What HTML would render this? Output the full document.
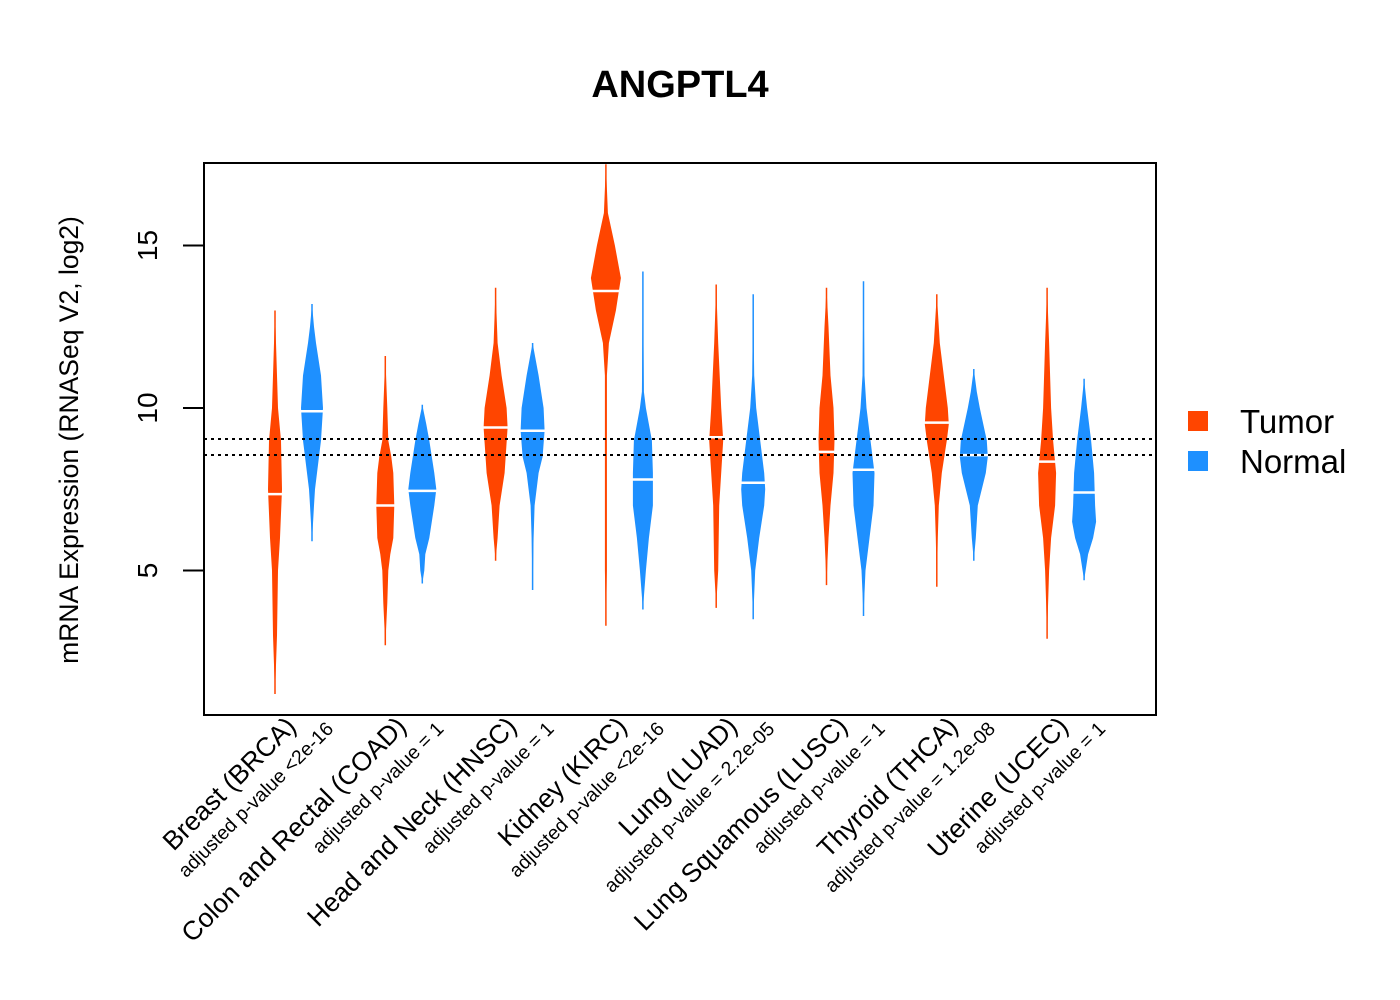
<!DOCTYPE html>
<html><head><meta charset="utf-8"><style>
body{margin:0;background:#fff;}
svg{display:block;font-family:"Liberation Sans",Arial,sans-serif;}
</style></head><body>
<svg id="chart" width="1400" height="1000" viewBox="0 0 1400 1000">
<text x="680" y="97" text-anchor="middle" font-size="38" font-weight="bold">ANGPTL4</text>
<g id="beans"></g>
<line x1="204" y1="439" x2="1156" y2="439" stroke="#000" stroke-width="2" stroke-dasharray="3,4"/>
<line x1="204" y1="455" x2="1156" y2="455" stroke="#000" stroke-width="2" stroke-dasharray="3,4"/>
<rect x="204" y="163" width="952" height="552" fill="none" stroke="#000" stroke-width="2"/>
<g id="yaxis"></g>
<text transform="translate(78,440) rotate(-90)" text-anchor="middle" font-size="26.5">mRNA Expression (RNASeq V2, log2)</text>
<g id="xlabels"></g>
<g>
<rect x="1188" y="411" width="20" height="20" fill="#FF4500"/>
<text x="1240" y="433" font-size="33">Tumor</text>
<rect x="1188" y="451" width="20" height="20" fill="#1E90FF"/>
<text x="1240" y="473" font-size="33">Normal</text>
</g>
</svg>
<script>
const categories = ["Breast (BRCA)","Colon and Rectal (COAD)","Head and Neck (HNSC)","Kidney (KIRC)","Lung (LUAD)","Lung Squamous (LUSC)","Thyroid (THCA)","Uterine (UCEC)"];
const pvalues = ["adjusted p-value <2e-16","adjusted p-value = 1","adjusted p-value = 1","adjusted p-value <2e-16","adjusted p-value = 2.2e-05","adjusted p-value = 1","adjusted p-value = 1.2e-08","adjusted p-value = 1"];
const yTicks = [5,10,15];
const refLines = [9.05,8.55];
const tumorMin = [1.2,2.7,5.3,3.3,3.85,4.55,4.5,2.9];
const tumorMax = [13.0,11.6,13.7,17.5,13.8,13.7,13.5,13.7];
const tumorMedian = [7.35,7.0,9.4,13.6,9.1,8.65,9.55,8.35];
const normalMin = [5.9,4.6,4.4,3.8,3.5,3.6,5.3,4.7];
const normalMax = [13.2,10.1,12.0,14.2,13.5,13.9,11.2,10.9];
const normalMedian = [9.9,7.45,9.3,7.8,7.7,8.1,8.55,7.4];
// density knots: [value, relative density]
const tumorDensity = [
 [[13,0],[11,2],[10,3],[9,6],[7.5,7],[6,5],[5,3],[3,2],[1.2,0]],
 [[11.6,0],[10,2],[9,3],[8.5,6],[8,8],[7,9],[6,8],[5.5,5],[5,3],[4,2],[2.7,0]],
 [[13.7,0],[12,2],[11,6],[10,11],[9.4,12],[8,9],[7,4],[6,2],[5.3,0]],
 [[17.5,0],[16,2],[15,9],[14,15],[13,10],[12,3],[11,1],[5,1],[3.3,0]],
 [[13.8,0],[12,2],[10,5],[9,7],[8,5],[7,3],[5,2],[3.9,0]],
 [[13.7,0],[12.5,2],[11,4],[10,7],[9,8],[8,7],[7,4],[6,2],[4.6,0]],
 [[13.5,0],[12,3],[11,7],[10,11],[9.5,12],[9,10],[8,5],[7,2],[6,1],[4.5,0]],
 [[13.7,0],[12,2],[10,4],[9,6],[8,9],[7,8],[6,4],[5,2],[4,1],[2.9,0]]
];
const normalDensity = [
 [[13.2,0],[12.5,2],[12,4],[11,9],[10,11],[9,9],[8.5,7],[8,5],[7.5,3],[7,2],[5.9,0]],
 [[10.1,0],[9.5,4],[9,7],[8,12],[7.5,14],[7,12],[6,7],[5.5,3],[5,2],[4.6,0]],
 [[12,0],[11,6],[10,11],[9.3,12],[8.5,10],[8,6],[7,2],[6,1],[4.4,0]],
 [[14.2,0],[10.5,1],[10,3],[9,9],[8,10],[7,10],[6,6],[5,3],[3.8,0]],
 [[13.5,0],[11,1],[10,3],[9,7],[8,11],[7.5,12],[7,11],[6,6],[5,2],[3.5,0]],
 [[13.9,0],[11,1],[10,3],[9,7],[8,11],[7,10],[6,6],[5,2],[3.6,0]],
 [[11.2,0],[10.5,3],[10,6],[9,13],[8.5,14],[8,12],[7.5,8],[7,4],[6,2],[5.3,0]],
 [[10.9,0],[10,3],[9,7],[8,10],[7,11],[6.5,12],[6,9],[5.5,4],[4.7,0]]
];
const NS='http://www.w3.org/2000/svg';
const yScale = v => 408 - (v-10)*32.5;
const xGroup = i => 293.5 + i*110.3;
const xTumor = i => xGroup(i) - 18.5;
const xNormal = i => xGroup(i) + 18.5;
const dScale = d => d*1.0;
function mk(tag, attrs, parent){const e=document.createElementNS(NS,tag);for(const k in attrs)e.setAttribute(k,attrs[k]);parent.appendChild(e);return e;}
const beans=document.getElementById('beans');
function drawBean(cx, dens, mn, mx, med, color, name){
  const g=mk('g',{},beans);
  
  
  const l=mk('line',{x1:cx,x2:cx,y1:yScale(mx),y2:yScale(mn),stroke:color,'stroke-width':1.5},g);
  
  
  const right=dens.map(k=>(cx+dScale(k[1]))+','+yScale(k[0]));
  const left=dens.slice().reverse().map(k=>(cx-dScale(k[1]))+','+yScale(k[0]));
  const p=mk('polygon',{points:right.concat(left).join(' '),fill:color},g);
  
  
  const w=Math.max(...dens.map(k=>k[1]));
  const m=mk('line',{x1:cx-w-1,x2:cx+w+1,y1:yScale(med),y2:yScale(med),stroke:'#fff','stroke-width':2.5},g);
  
  
}
categories.forEach((c,i)=>{
  drawBean(xTumor(i), tumorDensity[i], tumorMin[i], tumorMax[i], tumorMedian[i], '#FF4500', 'tumor-bean-'+i);
  drawBean(xNormal(i), normalDensity[i], normalMin[i], normalMax[i], normalMedian[i], '#1E90FF', 'normal-bean-'+i);
});
const ya=document.getElementById('yaxis');
yTicks.forEach(t=>{
  const tk=mk('line',{x1:183,x2:204,y1:yScale(t),y2:yScale(t),stroke:'#000','stroke-width':2},ya);
  
  
  const tx=mk('text',{transform:'translate(157,'+yScale(t)+') rotate(-90)','text-anchor':'middle','font-size':28},ya);
  
  
  tx.textContent=t;
});
const xl=document.getElementById('xlabels');
categories.forEach((c,i)=>{
  const t=mk('text',{transform:'translate('+(xGroup(i)+4)+',728) rotate(-45)','text-anchor':'end','font-size':26.5},xl);
  
  
  t.textContent=c;
  const p=mk('text',{transform:'translate('+(xGroup(i)+41)+',730) rotate(-45)','text-anchor':'end','font-size':19.5},xl);
  
  
  p.textContent=pvalues[i];
});
</script>
</body></html>
